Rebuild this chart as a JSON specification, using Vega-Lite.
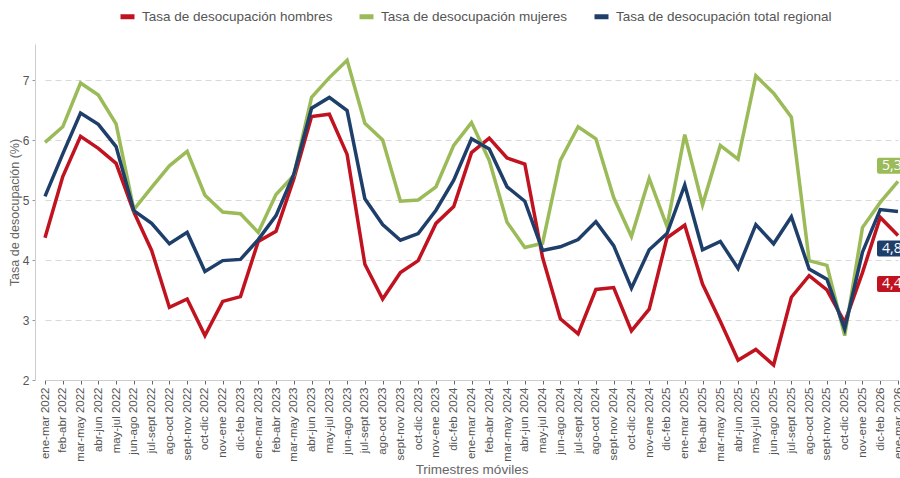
{
  "$schema": "https://vega.github.io/schema/vega-lite/v6.json",
  "width": 865,
  "height": 336,
  "autosize": "none",
  "padding": {"left": 35, "top": 44, "right": 0, "bottom": 98},
  "background": "white",
  "config": {"view": {"stroke": null}, "font": "Liberation Sans"},
  "datasets": {
    "series": [
      {"p": "ene-mar 2022", "h": 4.37, "m": 5.96, "t": 5.06},
      {"p": "feb-abr 2022", "h": 5.39, "m": 6.22, "t": 5.77},
      {"p": "mar-may 2022", "h": 6.06, "m": 6.95, "t": 6.45},
      {"p": "abr-jun 2022", "h": 5.86, "m": 6.75, "t": 6.26},
      {"p": "may-jul 2022", "h": 5.61, "m": 6.27, "t": 5.89},
      {"p": "jun-ago 2022", "h": 4.8, "m": 4.84, "t": 4.82},
      {"p": "jul-sept 2022", "h": 4.16, "m": 5.21, "t": 4.61},
      {"p": "ago-oct 2022", "h": 3.21, "m": 5.57, "t": 4.27},
      {"p": "sept-nov 2022", "h": 3.35, "m": 5.81, "t": 4.46},
      {"p": "oct-dic 2022", "h": 2.74, "m": 5.08, "t": 3.81},
      {"p": "nov-ene 2022", "h": 3.31, "m": 4.8, "t": 3.99},
      {"p": "dic-feb 2023", "h": 3.39, "m": 4.77, "t": 4.01},
      {"p": "ene-mar 2023", "h": 4.31, "m": 4.46, "t": 4.34},
      {"p": "feb-abr 2023", "h": 4.48, "m": 5.09, "t": 4.74},
      {"p": "mar-may 2023", "h": 5.35, "m": 5.41, "t": 5.43},
      {"p": "abr-jun 2023", "h": 6.39, "m": 6.71, "t": 6.53},
      {"p": "may-jul 2023", "h": 6.43, "m": 7.04, "t": 6.71},
      {"p": "jun-ago 2023", "h": 5.76, "m": 7.33, "t": 6.49},
      {"p": "jul-sept 2023", "h": 3.93, "m": 6.28, "t": 5.02},
      {"p": "ago-oct 2023", "h": 3.35, "m": 6.0, "t": 4.59},
      {"p": "sept-nov 2023", "h": 3.79, "m": 4.98, "t": 4.33},
      {"p": "oct-dic 2023", "h": 3.99, "m": 5.0, "t": 4.44},
      {"p": "nov-ene 2023", "h": 4.61, "m": 5.22, "t": 4.83},
      {"p": "dic-feb 2024", "h": 4.89, "m": 5.91, "t": 5.33},
      {"p": "ene-mar 2024", "h": 5.79, "m": 6.29, "t": 6.02},
      {"p": "feb-abr 2024", "h": 6.03, "m": 5.66, "t": 5.85},
      {"p": "mar-may 2024", "h": 5.7, "m": 4.63, "t": 5.22},
      {"p": "abr-jun 2024", "h": 5.6, "m": 4.21, "t": 4.98},
      {"p": "may-jul 2024", "h": 4.04, "m": 4.28, "t": 4.16},
      {"p": "jun-ago 2024", "h": 3.02, "m": 5.66, "t": 4.22},
      {"p": "jul-sept 2024", "h": 2.77, "m": 6.22, "t": 4.34},
      {"p": "ago-oct 2024", "h": 3.51, "m": 6.02, "t": 4.64},
      {"p": "sept-nov 2024", "h": 3.54, "m": 5.04, "t": 4.24},
      {"p": "oct-dic 2024", "h": 2.82, "m": 4.39, "t": 3.53},
      {"p": "nov-ene 2024", "h": 3.18, "m": 5.36, "t": 4.17},
      {"p": "dic-feb 2025", "h": 4.37, "m": 4.56, "t": 4.44},
      {"p": "ene-mar 2025", "h": 4.58, "m": 6.09, "t": 5.25},
      {"p": "feb-abr 2025", "h": 3.6, "m": 4.92, "t": 4.17},
      {"p": "mar-may 2025", "h": 2.98, "m": 5.91, "t": 4.31},
      {"p": "abr-jun 2025", "h": 2.33, "m": 5.68, "t": 3.86},
      {"p": "may-jul 2025", "h": 2.51, "m": 7.07, "t": 4.59},
      {"p": "jun-ago 2025", "h": 2.25, "m": 6.78, "t": 4.27},
      {"p": "jul-sept 2025", "h": 3.38, "m": 6.38, "t": 4.72},
      {"p": "ago-oct 2025", "h": 3.74, "m": 3.99, "t": 3.85},
      {"p": "sept-nov 2025", "h": 3.5, "m": 3.91, "t": 3.68},
      {"p": "oct-dic 2025", "h": 2.96, "m": 2.74, "t": 2.85},
      {"p": "nov-ene 2025", "h": 3.79, "m": 4.54, "t": 4.13},
      {"p": "dic-feb 2026", "h": 4.71, "m": 4.96, "t": 4.84},
      {"p": "ene-mar 2026", "h": 4.41, "m": 5.31, "t": 4.81}
    ],
    "etiquetas": [
      {"p": "ene-mar 2026", "s": "m", "y": 5.57, "txt": "5,3"},
      {"p": "ene-mar 2026", "s": "t", "y": 4.19, "txt": "4,8"},
      {"p": "ene-mar 2026", "s": "h", "y": 3.6, "txt": "4,4"}
    ]
  },
  "layer": [
    {
      "data": {"name": "series"},
      "transform": [{"fold": ["h", "m", "t"], "as": ["s", "v"]}],
      "mark": {"type": "line", "strokeWidth": 3.5, "strokeJoin": "miter"},
      "encoding": {
        "x": {
          "field": "p", "type": "ordinal", "sort": null,
          "scale": {"type": "point", "range": [10, 863], "padding": 0},
          "axis": {
            "title": "Trimestres móviles", "labelAngle": -90, "labelFontSize": 11.5,
            "labelColor": "#555", "titleFontSize": 13.5, "titleColor": "#666",
            "titleFontWeight": "normal", "titlePadding": 1, "tickSize": 4,
            "tickColor": "#666", "domainColor": "#ccc", "labelPadding": 3, "grid": false
          }
        },
        "y": {
          "field": "v", "type": "quantitative",
          "scale": {"domain": [2, 7.6], "nice": false, "zero": false},
          "axis": {
            "title": "Tasa de desocupación (%)", "values": [2, 3, 4, 5, 6, 7], "format": "d",
            "labelFontSize": 12, "labelColor": "#555", "titleFontSize": 12.5,
            "titleColor": "#666", "titleFontWeight": "normal", "titlePadding": 1, "tickSize": 3,
            "tickColor": "#999", "domainColor": "#ccc", "labelPadding": 3,
            "gridDash": [6, 4], "gridColor": "#d9d9d9", "gridWidth": 1.2
          }
        },
        "color": {
          "field": "s", "type": "nominal",
          "scale": {"domain": ["h", "m", "t"], "range": ["#C1121F", "#9BBB59", "#1F3F6B"]},
          "legend": {
            "orient": "none", "legendX": 83, "legendY": -37, "title": null, "direction": "horizontal",
            "labelExpr": "datum.label == 'h' ? 'Tasa de desocupación hombres' : datum.label == 'm' ? 'Tasa de desocupación mujeres' : 'Tasa de desocupación total regional'",
            "labelFontSize": 13.5, "labelColor": "#555", "labelLimit": 0, "symbolType": "stroke",
            "symbolStrokeWidth": 5, "symbolSize": 196, "columnPadding": 16,
            "labelOffset": 5
          }
        }
      }
    },
    {
      "data": {"name": "etiquetas"},
      "mark": {
        "type": "point", "filled": true, "opacity": 1, "size": 1600,
        "shape": "M-0.95,-0.4 H0.35 Q0.45,-0.4 0.45,-0.3 V0.3 Q0.45,0.4 0.35,0.4 H-0.95 Q-1.05,0.4 -1.05,0.3 V-0.3 Q-1.05,-0.4 -0.95,-0.4 Z"
      },
      "encoding": {
        "x": {"field": "p", "type": "ordinal", "sort": null},
        "y": {"field": "y", "type": "quantitative"},
        "fill": {
          "field": "s", "type": "nominal",
          "scale": {"domain": ["h", "m", "t"], "range": ["#C1121F", "#9BBB59", "#1F3F6B"]},
          "legend": null
        }
      }
    },
    {
      "data": {"name": "etiquetas"},
      "mark": {"type": "text", "align": "left", "baseline": "middle", "dx": -16, "font": "Open Sans", "fontSize": 14, "color": "white"},
      "encoding": {
        "x": {"field": "p", "type": "ordinal", "sort": null},
        "y": {"field": "y", "type": "quantitative"},
        "text": {"field": "txt"}
      }
    }
  ]
}
